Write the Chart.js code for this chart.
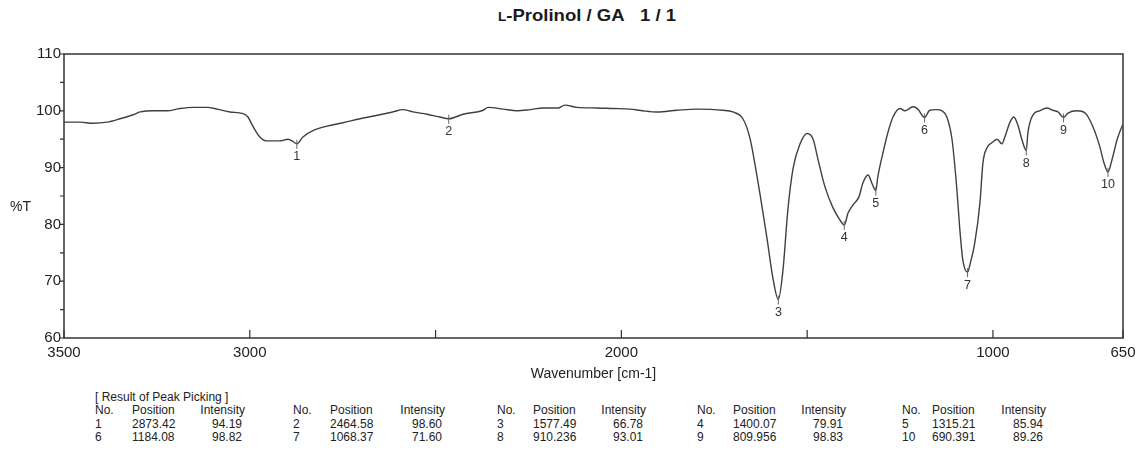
<!DOCTYPE html>
<html><head><meta charset="utf-8">
<script src="https://cdn.jsdelivr.net/npm/chart.js@4.4.1/dist/chart.umd.min.js"></script>
<style>
body{margin:0;background:#fff;font-family:"Liberation Sans",Arial,sans-serif;}
#wrap{position:relative;width:1137px;height:450px;overflow:hidden;background:#fff;}
#cbox{position:absolute;left:0;top:0;width:1137px;height:390px;}
.t{position:absolute;white-space:nowrap;color:#222;line-height:13px;font-size:12px;}
#title{position:absolute;left:0;width:1174px;top:7px;text-align:center;font-weight:bold;font-size:17px;color:#1a1a1a;line-height:18px;transform:scaleX(1.09);transform-origin:587px 0;}
#ylab{position:absolute;left:10px;top:198px;font-size:14px;color:#222;line-height:16px;}
</style>
</head><body>
<div id="wrap">
<div id="title"><span style="font-size:12.5px">L</span>-Prolinol / GA&nbsp;&nbsp;&nbsp;1 / 1</div>
<div id="cbox"><canvas id="c"></canvas></div>
<div id="ylab">%T</div>
<div id="table"></div>
</div>
<script>
const wavenumbers = [3500, 3457, 3422, 3384, 3349, 3314, 3295, 3260, 3223, 3188,
  3153, 3115, 3088, 3053, 3018, 3005, 2991, 2973, 2954, 2919,
  2897, 2884, 2873.42, 2857, 2830, 2792, 2749, 2703, 2650, 2615,
  2588, 2561, 2523, 2488, 2464.58, 2426, 2372, 2359, 2319, 2281,
  2246, 2211, 2171, 2152, 2120, 2066, 2023, 1977, 1942, 1904,
  1850, 1797, 1727, 1700, 1673, 1654, 1635, 1608, 1592, 1577.49,
  1565, 1552, 1538, 1519, 1500, 1484, 1471, 1452, 1431, 1412,
  1400.07, 1390, 1377, 1361, 1350, 1336, 1326, 1315.21, 1310, 1296,
  1283, 1269, 1250, 1237, 1215, 1202, 1184.08, 1170, 1151, 1137,
  1124, 1110, 1097, 1089, 1081, 1068.37, 1062, 1049, 1035, 1027,
  1016, 1000, 989, 976, 968, 954, 944, 933, 922, 910.236,
  906, 892, 874, 855, 839, 825, 809.956, 798, 774, 752,
  731, 712, 701, 690.391, 680, 666, 653, 650];
const transmittance = [98.0, 98.0, 97.8, 98.0, 98.6, 99.3, 99.8, 100.0, 100.0, 100.4,
  100.6, 100.6, 100.3, 99.8, 99.5, 98.9, 97.2, 95.4, 94.7, 94.7,
  95.0, 94.6, 94.19, 95.4, 96.5, 97.3, 97.9, 98.6, 99.3, 99.8,
  100.2, 99.8, 99.4, 98.9, 98.60, 99.4, 100.1, 100.6, 100.3, 100.0,
  100.2, 100.5, 100.5, 101.0, 100.6, 100.5, 100.4, 100.3, 100.0, 99.8,
  100.1, 100.3, 100.1, 99.8, 98.6, 95.2, 88.5, 77.5, 70.5, 66.78,
  72.0, 82.5, 89.8, 94.2, 96.0, 95.0, 91.5, 86.6, 83.0, 80.8,
  79.91, 82.0, 83.4, 84.8, 87.3, 88.7, 87.3, 85.94, 88.3, 92.6,
  96.1, 98.9, 100.4, 100.0, 100.7, 100.3, 98.82, 100.1, 100.2, 100.0,
  98.9, 94.9, 86.1, 79.0, 73.7, 71.60, 72.9, 76.7, 83.8, 90.8,
  93.5, 94.5, 95.0, 94.2, 95.4, 98.0, 98.9, 97.5, 94.9, 93.01,
  96.1, 99.3, 100.0, 100.5, 100.1, 99.8, 98.83, 99.6, 100.0, 99.6,
  97.2, 93.6, 90.8, 89.26, 91.3, 94.9, 97.2, 97.5];
const peakNumbers = [1, 2, 3, 4, 5, 6, 7, 8, 9, 10];
const peakPositions = [2873.42, 2464.58, 1577.49, 1400.07, 1315.21, 1184.08, 1068.37, 910.236, 809.956, 690.391];
const peakIntensities = [94.19, 98.60, 66.78, 79.91, 85.94, 98.82, 71.60, 93.01, 98.83, 89.26];
const xTickValues = [3500, 3000, 2500, 2000, 1500, 1000, 650];
const xTickLabels = [3500, 3000, 2000, 1000, 650];
const yTickValues = [60, 65, 70, 75, 80, 85, 90, 95, 100, 105, 110];

const FONT = '"Liberation Sans", Arial, sans-serif';

const marks = {
  id: 'marks',
  afterDraw(chart) {
    const {ctx, chartArea: a, scales: {x, y}} = chart;
    ctx.save();
    ctx.strokeStyle = '#333';
    ctx.lineWidth = 1.5;
    ctx.strokeRect(a.left, a.top, a.right - a.left, a.bottom - a.top);
    ctx.lineWidth = 1.2;
    ctx.beginPath();
    yTickValues.forEach(v => {
      const py = y.getPixelForValue(v);
      ctx.moveTo(a.left - 4, py); ctx.lineTo(a.left, py);
    });
    xTickValues.forEach(v => {
      const px = x.getPixelForValue(v);
      ctx.moveTo(px, a.bottom); ctx.lineTo(px, a.bottom - 8);
    });
    ctx.stroke();
    ctx.strokeStyle = '#666';
    ctx.lineWidth = 1;
    ctx.fillStyle = '#333';
    ctx.font = '12.5px ' + FONT;
    ctx.textAlign = 'center';
    ctx.textBaseline = 'middle';
    peakPositions.forEach((p, i) => {
      const px = x.getPixelForValue(p);
      const py = y.getPixelForValue(peakIntensities[i]);
      ctx.beginPath();
      ctx.moveTo(px, py - 4); ctx.lineTo(px, py + 5);
      ctx.stroke();
      ctx.fillText(String(peakNumbers[i]), px, py + 13);
    });
    ctx.restore();
  }
};

new Chart(document.getElementById('c'), {
  type: 'line',
  data: {
    datasets: [{
      data: wavenumbers.map((w, i) => ({x: w, y: transmittance[i]})),
      borderColor: '#404040',
      borderWidth: 1.4,
      pointRadius: 0,
      fill: false,
      cubicInterpolationMode: 'monotone'
    }]
  },
  options: {
    responsive: true,
    maintainAspectRatio: false,
    animation: false,
    layout: {padding: {top: 54, right: 14, left: 0, bottom: 0}},
    plugins: {legend: {display: false}, tooltip: {enabled: false}},
    scales: {
      x: {
        type: 'linear', reverse: true, min: 650, max: 3500,
        grid: {display: false, drawTicks: false}, border: {display: false},
        afterBuildTicks(s) { s.ticks = xTickValues.map(v => ({value: v})); },
        afterFit(s) { s.height = 52; s.paddingLeft = 0; s.paddingRight = 0; },
        ticks: {
          autoSkip: false, maxRotation: 0, padding: 6, color: '#222',
          font: {family: FONT, size: 15},
          callback: v => xTickLabels.includes(v) ? String(v) : ''
        },
        title: {display: true, text: 'Wavenumber [cm-1]', color: '#222',
          font: {family: FONT, size: 14}, padding: {top: 0, bottom: 7}}
      },
      y: {
        min: 60, max: 110,
        grid: {display: false, drawTicks: false}, border: {display: false},
        afterFit(s) { s.width = 64; s.paddingTop = 0; s.paddingBottom = 0; },
        ticks: {stepSize: 10, padding: 3, color: '#222', font: {family: FONT, size: 15}}
      }
    }
  },
  plugins: [marks]
});

// peak table
const table = document.getElementById('table');
function addText(txt, left, top, width, align) {
  const d = document.createElement('div');
  d.className = 't';
  d.textContent = txt;
  d.style.left = left + 'px';
  d.style.top = top + 'px';
  if (width) { d.style.width = width + 'px'; d.style.textAlign = align; }
  table.appendChild(d);
}
const noX = [95, 293, 497, 697, 902];
const posX = [132, 330, 533, 733, 932];
const intX = [199, 399, 600, 800, 1000];
const rowTop = [404, 417.5, 431];
addText('[ Result of Peak Picking ]', 95, 391);
for (let g = 0; g < 5; g++) {
  addText('No.', noX[g], rowTop[0]);
  addText('Position', posX[g], rowTop[0]);
  addText('Intensity', intX[g], rowTop[0], 46, 'right');
  [g, g + 5].forEach((k, r) => {
    addText(String(peakNumbers[k]), noX[g], rowTop[r + 1]);
    addText(String(peakPositions[k]), posX[g], rowTop[r + 1]);
    addText(peakIntensities[k].toFixed(2), intX[g], rowTop[r + 1], 43, 'right');
  });
}
</script>
</body></html>
